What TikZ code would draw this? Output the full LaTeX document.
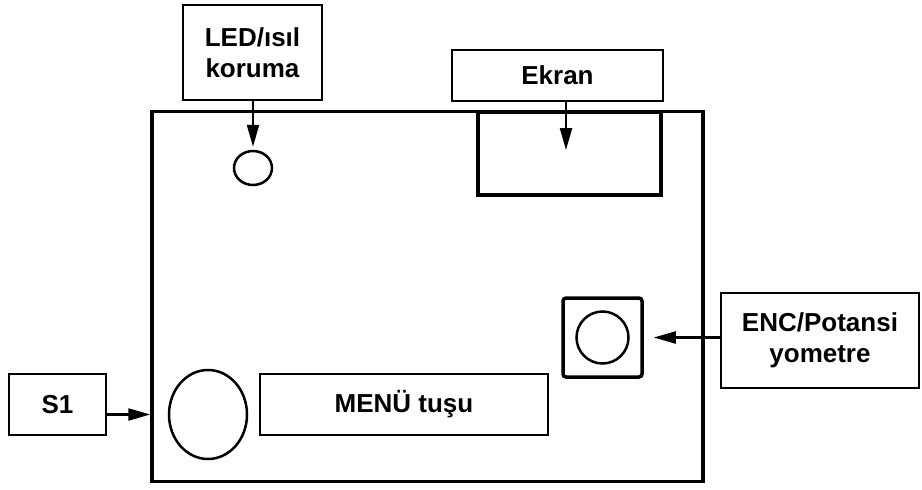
\documentclass[tikz,border=0pt]{standalone}
\usepackage{fontspec}
\setmainfont{Liberation Sans}
\usetikzlibrary{arrows.meta, positioning, shapes.geometric}

\begin{document}
\begin{tikzpicture}[x=1pt, y=-1pt,
    lbl/.style={draw, line width=1.5pt, align=center, inner sep=0pt, font=\bfseries\fontsize{26}{31}\selectfont},
    casing/.style={draw, line width=3.5pt, inner sep=0pt},
    knob/.style={draw, ellipse, line width=2.5pt, inner sep=0pt},
    pointer/.style={-{Triangle[length=22pt, width=12pt]}, line width=2.2pt}
  ]
    \useasboundingbox (0,0) rectangle (922,490);

    % board and parts on it
    \node[casing, minimum width=551pt, minimum height=370pt] (board) at (427.5,296.5) {};
    \node[casing, minimum width=183pt, minimum height=83pt] (display) at (569.5,153.5) {};
    \node[casing, rounded corners=3pt, minimum width=79pt, minimum height=79pt] (enc) at (602.5,337.5) {};
    \node[knob, minimum width=52pt, minimum height=52pt] (encknob) at (enc) {};
    \node[knob, minimum width=38pt, minimum height=34pt] (led) at (253,168) {};
    \node[knob, minimum width=78pt, minimum height=89pt] (menubtn) at (208,414.5) {};
    \node[lbl, minimum width=288pt, minimum height=61pt] (menubox) at (404,404.5) {MENÜ tuşu};

    % labels
    \node[lbl, minimum width=139pt, minimum height=95pt] (ledbox) at (252.5,52.5) {LED/ısıl\\koruma};
    \node[lbl, minimum width=211pt, minimum height=51pt] (ekranbox) at (557.5,75.5) {Ekran};
    \node[lbl, minimum width=198pt, minimum height=95pt] (encbox) at (820,340.5) {ENC/Potansi\\yometre};
    \node[lbl, minimum width=97pt, minimum height=61pt] (s1box) at (57.5,404.5) {S1};
    \coordinate (ekrantip) at (566,150);

    \draw[pointer, shorten >=3pt] (ledbox.south -| led) -- (led.north);
    \draw[pointer] (ekrantip |- ekranbox.south) -- (ekrantip);
    \draw[pointer, shorten >=10pt] (encbox.west |- enc) -- (enc.east);
    \draw[pointer] (s1box.east |- menubtn) -- (menubtn -| board.west);
\end{tikzpicture}
\end{document}
